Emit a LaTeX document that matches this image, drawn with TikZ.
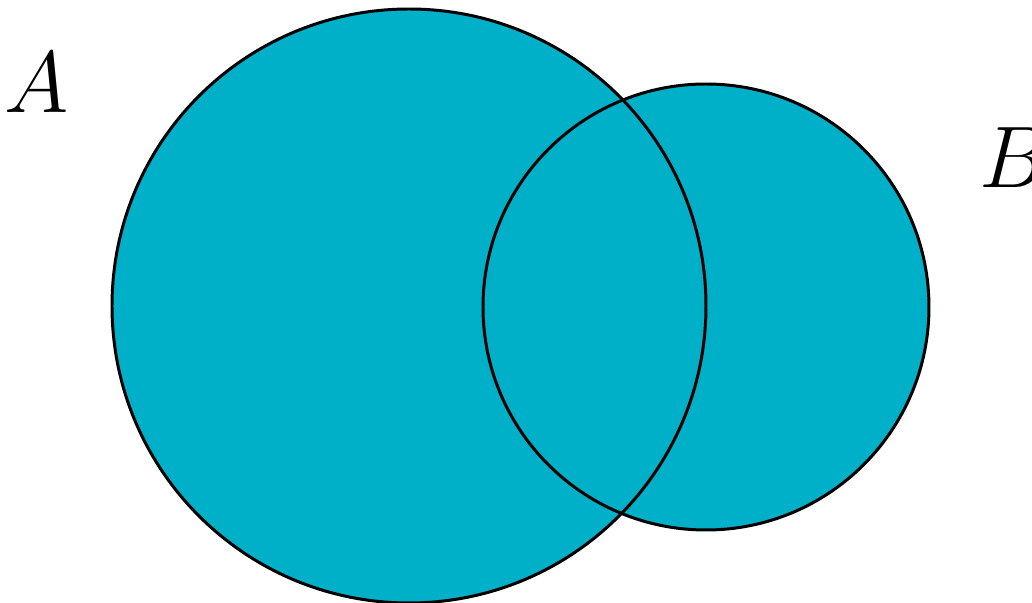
\documentclass[tikz,border=0pt]{standalone}
\usepackage{tikz}
\usepackage{xcolor}
\usepackage{amsmath}
\definecolor{setteal}{RGB}{0,175,200}

\begin{document}
\begin{tikzpicture}[
    setfill/.style={fill=setteal},
    setline/.style={draw=black, line width=0.85pt},
    setlabel/.style={inner sep=0pt, font=\fontsize{24}{28}\selectfont}
  ]
    \useasboundingbox (0,0) rectangle (10.32,6.03);

    % Set A and set B
    \coordinate (ca) at (4.09,2.97);
    \coordinate (cb) at (7.06,2.96);
    \fill[setfill] (ca) circle (2.97);
    \fill[setfill] (cb) circle (2.23);
    \draw[setline] (ca) circle (2.97);
    \draw[setline] (cb) circle (2.23);

    % Labels
    \node[setlabel] (la) at (0.37,5.20) {$A$};
    \node[setlabel] (lb) at (10.14,4.45) {$B$};
\end{tikzpicture}
\end{document}
